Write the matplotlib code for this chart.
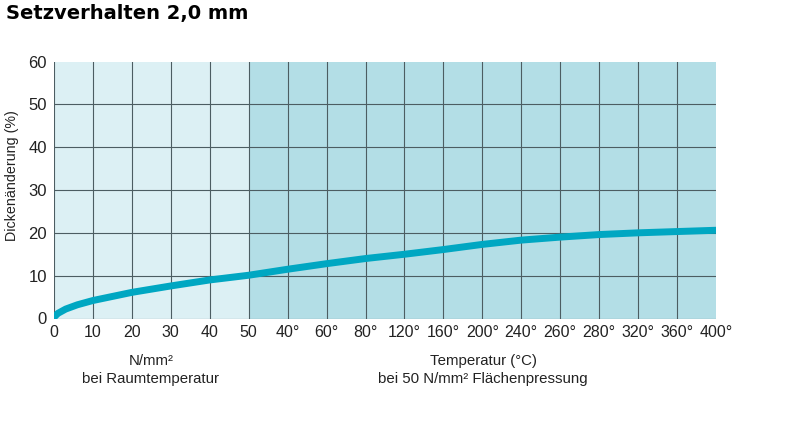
import matplotlib
matplotlib.use("Agg")
from matplotlib import pyplot as plt

# Achsenbeschriftungen (Druck links, Temperatur rechts)
tick_labels = ["0", "10", "20", "30", "40", "50",
               "40°", "60°", "80°", "120°", "160°", "200°",
               "240°", "260°", "280°", "320°", "360°", "400°"]

# Teil 1: Dickenaenderung ueber Flaechenpressung (N/mm²) bei Raumtemperatur
pressure = [0, 1, 3, 6, 10, 20, 30, 40, 50]
change_pressure = [0.3, 1.2, 2.2, 3.2, 4.2, 6.1, 7.6, 9.0, 10.1]

# Teil 2: Dickenaenderung ueber Temperatur bei 50 N/mm²
temp_labels = ["40°", "60°", "80°", "120°", "160°", "200°",
               "240°", "260°", "280°", "320°", "360°", "400°"]
change_temp = [11.5, 12.8, 14.0, 15.0, 16.1, 17.3,
               18.3, 19.0, 19.6, 20.0, 20.3, 20.6]

light_bg = "#dcf0f4"
dark_bg = "#b3dee6"
curve_col = "#00a7c2"
grid_col = "#4c5d62"


def main():
    fig = plt.figure(figsize=(8, 4.48), dpi=100)
    ax = fig.add_axes([54 / 800, 1 - 318.5 / 448, 662 / 800, 257 / 448])

    n = len(tick_labels) - 1
    split = 5  # Index von "50" -> Beginn Temperaturbereich

    ax.axvspan(0, split, color=light_bg, zorder=0, lw=0)
    ax.axvspan(split, n, color=dark_bg, zorder=0, lw=0)

    # Gitterlinien
    for i in range(n):
        ax.plot([i, i], [0, 60], color=grid_col, lw=0.8, zorder=1)
    for v in range(0, 60, 10):
        ax.plot([0, n], [v, v], color=grid_col, lw=0.8, zorder=1)

    # Kurve: Druckbereich auf Index (10 N/mm² je Feld), danach Temperaturfelder
    xs = [p / 10 for p in pressure] + [split + 1 + i for i in range(len(temp_labels))]
    ys = change_pressure + change_temp
    ax.plot(xs, ys, color=curve_col, lw=5, solid_capstyle="round",
            solid_joinstyle="round", zorder=3)

    ax.set_xlim(0, n)
    ax.set_ylim(0, 60)
    ax.set_xticks(range(n + 1))
    ax.set_xticklabels(tick_labels, fontsize=11.5, family="Liberation Sans",
                       color="#222222")
    ax.set_yticks(range(0, 61, 10))
    ax.set_yticklabels([str(v) for v in range(0, 61, 10)], fontsize=12,
                       family="Liberation Sans", color="#222222")
    ax.tick_params(length=0, pad=5)
    for s in ax.spines.values():
        s.set_visible(False)

    fig.text(12 / 800, 1 - 176 / 448, "Dickenänderung (%)", rotation=90,
             ha="center", va="center", fontsize=10.3, family="Liberation Sans",
             color="#222222")

    fig.text(151 / 800, 1 - 361 / 448, "N/mm²", ha="center", va="center",
             fontsize=10.8, family="Liberation Sans", color="#222222")
    fig.text(151 / 800, 1 - 378.5 / 448, "bei Raumtemperatur", ha="center",
             va="center", fontsize=10.8, family="Liberation Sans", color="#222222")
    fig.text(483 / 800, 1 - 361 / 448, "Temperatur (°C)", ha="center",
             va="center", fontsize=10.8, family="Liberation Sans", color="#222222")
    fig.text(483 / 800, 1 - 378.5 / 448, "bei 50 N/mm² Flächenpressung",
             ha="center", va="center", fontsize=10.8, family="Liberation Sans",
             color="#222222")

    fig.text(6 / 800, 1 - 14 / 448, "Setzverhalten 2,0 mm", ha="left",
             va="center", fontsize=14, fontweight="bold", family="DejaVu Sans",
             color="black")

    fig.savefig("out.png", dpi=100, facecolor="white")


if __name__ == "__main__":
    main()
